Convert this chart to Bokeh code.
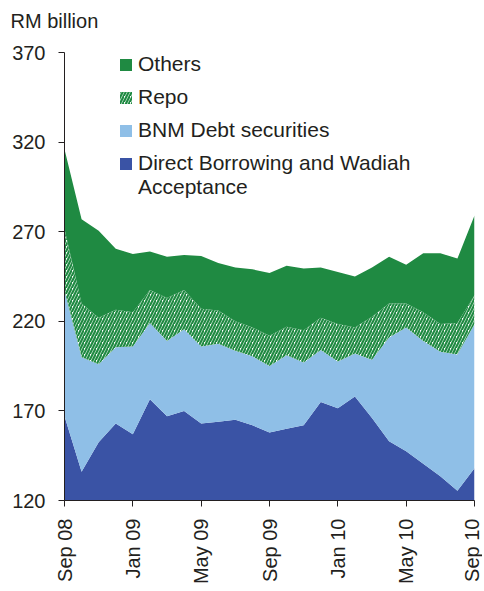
from bokeh.plotting import figure
from bokeh.models import ColumnDataSource, FixedTicker, Legend, LegendItem, Title, Range1d
from bokeh.transform import stack
from bokeh.embed import file_html
from bokeh.resources import INLINE
import math

months = ["Sep 08", "Oct 08", "Nov 08", "Dec 08", "Jan 09", "Feb 09", "Mar 09", "Apr 09",
          "May 09", "Jun 09", "Jul 09", "Aug 09", "Sep 09", "Oct 09", "Nov 09", "Dec 09",
          "Jan 10", "Feb 10", "Mar 10", "Apr 10", "May 10", "Jun 10", "Jul 10", "Aug 10", "Sep 10"]
direct = [167, 136, 152.5, 163, 157, 176.5, 167, 170, 163, 164, 165, 162, 158,
          160, 162, 175, 171.5, 178, 166, 153, 147.5, 140.5, 133.5, 125.5, 138]
bnm = [70, 64, 43.5, 42.5, 49, 42.5, 42, 45.5, 43, 43.5, 38.5, 38.5, 37,
       41, 35, 29, 26, 24, 32.5, 58, 69, 68.5, 69.5, 76, 80.5]
repo = [34.5, 30, 26, 21, 19, 18.5, 24, 22, 21, 18.5, 16.5, 16, 17,
        16, 18, 18, 21, 14.5, 24, 19, 13.5, 16, 15.5, 17.5, 16]
others = [44.5, 47, 48.5, 34, 32.5, 21.5, 23, 19.5, 29.5, 26.5, 30, 32.5, 35,
          34, 34.5, 28, 29, 28.5, 27.5, 26, 21.5, 33, 39.5, 36, 44.5]
tick_months = ["Sep 08", "Jan 09", "May 09", "Sep 09", "Jan 10", "May 10", "Sep 10"]
y_ticks = [120, 170, 220, 270, 320, 370]
unit_label = "RM billion"

GREEN = "#1f8a42"
LIGHT = "#8fbfe7"
DARK = "#3a53a5"
TXT = "#231f20"
FONT = "Liberation Sans"

src = ColumnDataSource(dict(x=list(range(len(months))), direct=direct, bnm=bnm, repo=repo, others=others))

p = figure(width=482, height=589, output_backend="svg", toolbar_location=None,
           x_range=Range1d(0, len(months) - 1), y_range=Range1d(y_ticks[0], y_ticks[-1]),
           min_border_left=64, min_border_right=8, min_border_top=52, min_border_bottom=89)
p.outline_line_color = None
p.grid.visible = False
p.background_fill_color = "white"

r_direct = p.varea(x="x", y1=0, y2=stack("direct"), source=src, fill_color=DARK)
r_bnm = p.varea(x="x", y1=stack("direct"), y2=stack("direct", "bnm"), source=src, fill_color=LIGHT)
r_repo = p.varea(x="x", y1=stack("direct", "bnm"), y2=stack("direct", "bnm", "repo"), source=src,
                 fill_color="white", hatch_pattern="/", hatch_color=GREEN, hatch_scale=6, hatch_weight=2.2)
r_others = p.varea(x="x", y1=stack("direct", "bnm", "repo"), y2=stack("direct", "bnm", "repo", "others"),
                   source=src, fill_color=GREEN)
r_blank = p.varea(x=[0, 1], y1=[0, 0], y2=[0, 0], fill_alpha=0)

idx = {m: i for i, m in enumerate(months)}
p.xaxis.ticker = FixedTicker(ticks=[idx[m] for m in tick_months])
p.xaxis.major_label_overrides = {idx[m]: m for m in tick_months}
p.xaxis.major_label_orientation = math.pi / 2
p.yaxis.ticker = FixedTicker(ticks=y_ticks)

for ax in (p.xaxis[0], p.yaxis[0]):
    ax.axis_line_color = TXT
    ax.major_tick_line_color = TXT
    ax.minor_tick_line_color = None
    ax.major_tick_out = 6
    ax.major_tick_in = 0
    ax.major_label_text_font = FONT
    ax.major_label_text_font_size = "20px"
    ax.major_label_text_color = TXT
p.yaxis.major_label_standoff = 13
p.xaxis.major_label_standoff = 12

legend = Legend(items=[
    LegendItem(label="Others", renderers=[r_others]),
    LegendItem(label="Repo", renderers=[r_repo]),
    LegendItem(label="BNM Debt securities", renderers=[r_bnm]),
    LegendItem(label="Direct Borrowing and Wadiah", renderers=[r_direct]),
], location=(54, 325))
legend2 = Legend(items=[LegendItem(label="Acceptance", renderers=[r_blank])], location=(54, 301))
for lg in (legend, legend2):
    lg.border_line_color = None
    lg.background_fill_alpha = 0
    lg.padding = 0
    lg.margin = 0
    lg.glyph_width = 15
    lg.glyph_height = 15
    lg.label_height = 22
    lg.spacing = 9
    lg.label_standoff = 5
    lg.label_text_font = FONT
    lg.label_text_font_size = "21px"
    lg.label_text_color = TXT
    lg.click_policy = "none"
p.add_layout(legend, "center")
p.add_layout(legend2, "center")

title = Title(text=unit_label + "\n ", align="left", offset=-54, vertical_align="top", standoff=-6,
              text_font=FONT, text_font_size="20px", text_font_style="normal", text_color=TXT)
p.add_layout(title, "above")

open("out.html", "w").write(file_html(p, INLINE))
